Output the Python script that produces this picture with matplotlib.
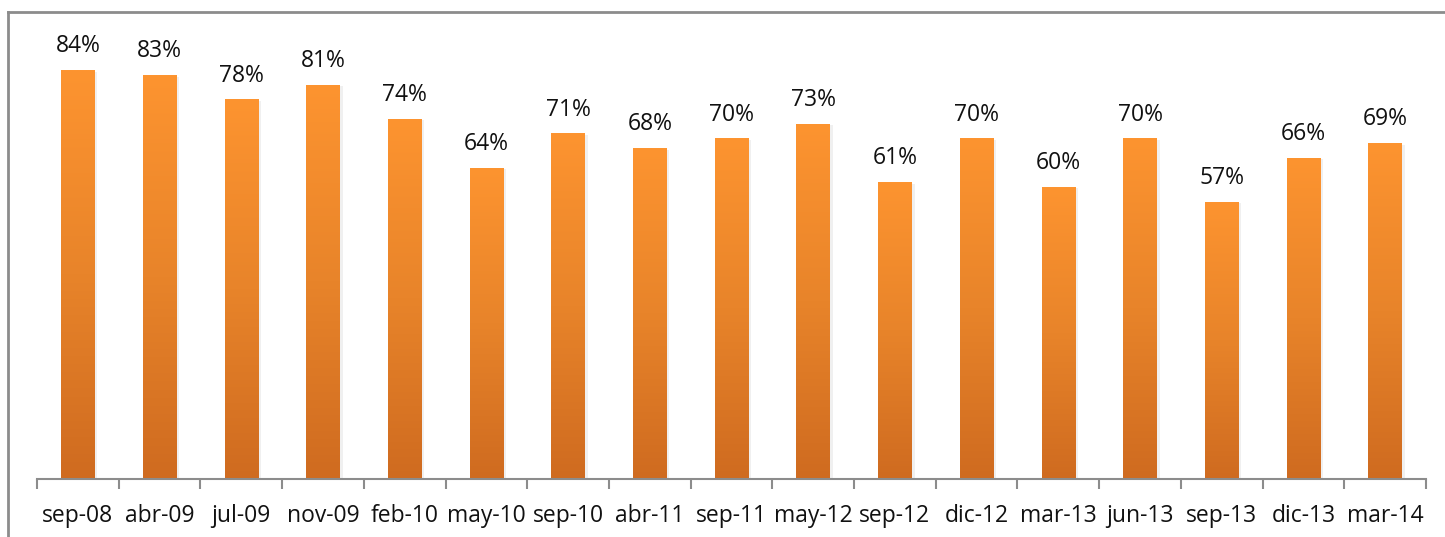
import numpy as np
import matplotlib.pyplot as plt
from matplotlib.colors import LinearSegmentedColormap
from matplotlib.lines import Line2D

categories = ["sep-08", "abr-09", "jul-09", "nov-09", "feb-10", "may-10", "sep-10",
              "abr-11", "sep-11", "may-12", "sep-12", "dic-12", "mar-13", "jun-13",
              "sep-13", "dic-13", "mar-14"]
values = [84, 83, 78, 81, 74, 64, 71, 68, 70, 73, 61, 70, 60, 70, 57, 66, 69]

W, H = 1445, 537
fig = plt.figure(figsize=(W / 100, H / 100), dpi=100)
plt.rcParams["font.family"] = ["Open Sans", "DejaVu Sans"]

# plot area in pixel terms
x0, x1 = 37, 1426
y_base, y_top = 479, 41
ax = fig.add_axes([x0 / W, 1 - y_base / H, (x1 - x0) / W, (y_base - y_top) / H])

n = len(categories)
x = np.arange(n)
bw = 0.41
cmap = LinearSegmentedColormap.from_list("org", ["#cf6b20", "#e8842a", "#fd9430"])
grad = np.linspace(0, 1, 256).reshape(-1, 1)

for xi, v in zip(x, values):
    # faint shadow
    ax.bar(xi + 0.02, v, bw + 0.03, bottom=-0.3, color="#000000", alpha=0.06, zorder=1)
    bar = ax.bar(xi, v, bw, color="none", zorder=2)[0]
    im = ax.imshow(grad, extent=(xi - bw / 2, xi + bw / 2, 0, v), origin="lower",
                   cmap=cmap, aspect="auto", zorder=2)
    im.set_clip_path(bar)
    ax.annotate(f"{v}%", (xi, v), xytext=(0, 8.5), textcoords="offset points",
                ha="center", va="bottom", fontsize=16.5, color="#111111")

ax.set_xlim(-0.5, n - 0.5)
ax.set_ylim(0, 90)
for s in ["top", "right", "left"]:
    ax.spines[s].set_visible(False)
ax.spines["bottom"].set_color("#8c8c8c")
ax.spines["bottom"].set_linewidth(1.5)
ax.set_yticks([])
ax.set_xticks(np.arange(n + 1) - 0.5, minor=True)
ax.tick_params(axis="x", which="minor", length=7, width=1.5, color="#8c8c8c")
ax.set_xticks(x)
ax.set_xticklabels(categories, fontsize=16.5, color="#111111")
ax.tick_params(axis="x", which="major", length=0, pad=18)

# chart frame (only top and left edges visible)
fig.add_artist(Line2D([8 / W, 8 / W], [0, 1 - 12 / H], color="#8c8c8c", lw=2))
fig.add_artist(Line2D([8 / W, 1], [1 - 12 / H, 1 - 12 / H], color="#8c8c8c", lw=2))

fig.savefig("out.png", dpi=100)
